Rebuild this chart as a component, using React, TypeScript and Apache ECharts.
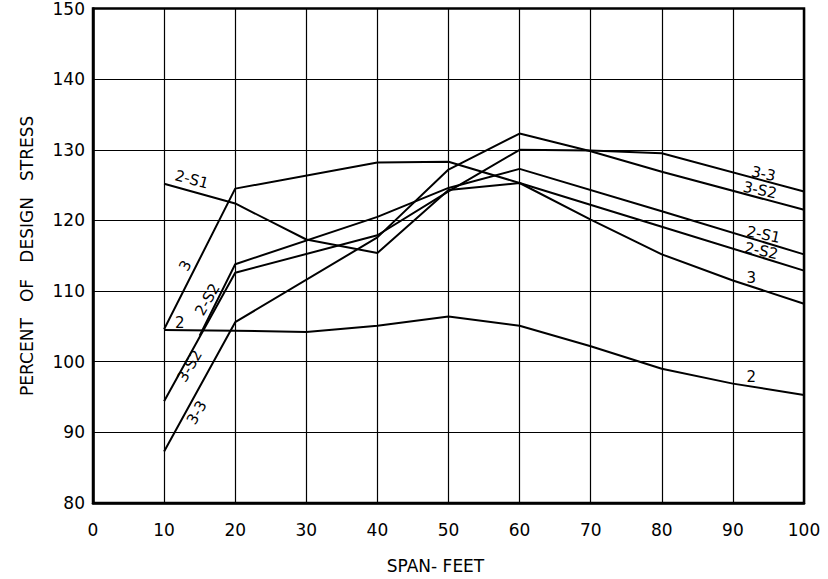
import React, { useEffect, useRef } from "react";
import * as echarts from "echarts";

// Span (feet) vs percent of design stress
const curve2 = [[10, 104.5], [20, 104.4], [30, 104.2], [40, 105.1], [50, 106.4], [60, 105.1], [70, 102.2], [80, 99.0], [90, 96.9], [100, 95.3]];
const curve3 = [[10, 104.6], [20, 124.5], [40, 128.2], [50, 128.3], [60, 125.3], [70, 120.1], [80, 115.2], [90, 111.5], [100, 108.2]];
const curve2S1 = [[10, 125.2], [20, 122.4], [30, 117.3], [40, 115.4], [50, 124.3], [60, 125.3], [80, 119.1], [100, 112.9]];
const curve2S2 = [[15, 103.7], [20, 113.8], [40, 120.5], [50, 124.6], [60, 127.3], [80, 121.3], [100, 115.2]];
const curve3S2 = [[10, 94.4], [20, 112.6], [40, 117.9], [50, 124.1], [60, 130.0], [70, 129.9], [80, 129.5], [100, 124.1]];
const curve33 = [[10, 87.3], [20, 105.6], [40, 117.6], [50, 127.2], [60, 132.3], [70, 129.8], [80, 126.9], [100, 121.5]];

const xTicks = [0, 10, 20, 30, 40, 50, 60, 70, 80, 90, 100];
const yTicks = [80, 90, 100, 110, 120, 130, 140, 150];

// curve annotations: [x, y, text, rotation]
const curveLabels: [number, number, string, number][] = [
  [13.9, 125.8, "2-S1", -15],
  [13.0, 113.6, "3", 62],
  [12.2, 105.5, "2", 0],
  [16.1, 108.8, "2-S2", 60],
  [13.6, 99.4, "3-S2", 60],
  [14.6, 92.8, "3-3", 60],
  [94.3, 126.6, "3-3", -12],
  [93.8, 124.3, "3-S2", -12],
  [94.3, 118.0, "2-S1", -12],
  [94.0, 115.7, "2-S2", -12],
  [92.6, 111.9, "3", 0],
  [92.6, 97.9, "2", 0],
];

const FONT = "DejaVu Sans";

export default function App() {
  const ref = useRef<HTMLDivElement>(null);
  useEffect(() => {
    if (!ref.current) return;
    const chart = echarts.init(ref.current, null, { renderer: "svg" });
    const lineSeries = [curve2, curve3, curve2S1, curve2S2, curve3S2, curve33].map((d, i) => ({
      type: "line",
      name: ["2", "3", "2-S1", "2-S2", "3-S2", "3-3"][i],
      data: d,
      symbol: "none",
      lineStyle: { color: "#000", width: 2 },
      z: 3,
    }));
    chart.setOption({
      animation: false,
      backgroundColor: "#fff",
      grid: { left: 93, right: 24, top: 8, bottom: 74, show: true, borderColor: "#000", borderWidth: 2.5, backgroundColor: "transparent" },
      xAxis: {
        type: "value",
        min: xTicks[0],
        max: xTicks[xTicks.length - 1],
        interval: 10,
        name: "SPAN- FEET",
        nameLocation: "middle",
        nameGap: 54,
        nameTextStyle: { fontFamily: FONT, fontSize: 17, color: "#000", padding: [0, 26, 0, 0] },
        axisLine: { show: true, lineStyle: { color: "#000", width: 2.5 } },
        axisTick: { show: false },
        axisLabel: { fontFamily: FONT, fontSize: 17, color: "#000", margin: 18 },
        splitLine: { show: true, lineStyle: { color: "#000", width: 1.2 } },
      },
      yAxis: {
        type: "value",
        min: yTicks[0],
        max: yTicks[yTicks.length - 1],
        interval: 10,
        name: "PERCENT   OF   DESIGN   STRESS",
        nameLocation: "middle",
        nameGap: 58,
        nameRotate: 90,
        nameTextStyle: { fontFamily: FONT, fontSize: 17, color: "#000" },
        axisLine: { show: true, lineStyle: { color: "#000", width: 2.5 } },
        axisTick: { show: false },
        axisLabel: { fontFamily: FONT, fontSize: 17, color: "#000", margin: 8 },
        splitLine: { show: true, lineStyle: { color: "#000", width: 1.2 } },
      },
      series: [
        ...lineSeries,
        {
          type: "scatter",
          symbolSize: 0,
          silent: true,
          z: 5,
          itemStyle: { opacity: 1 },
          data: curveLabels.map(([x, y, t, r]) => ({
            value: [x, y],
            name: t,
            label: { rotate: r },
          })),
          label: {
            show: true,
            position: "inside",
            formatter: (p: any) => p.name,
            fontFamily: FONT,
            fontSize: 15,
            color: "#000",
            opacity: 1,
          },
        },
      ],
    });
    return () => chart.dispose();
  }, []);
  return <div ref={ref} style={{ position: "fixed", left: 0, top: 0, width: 828, height: 579, background: "#fff" }} />;
}
